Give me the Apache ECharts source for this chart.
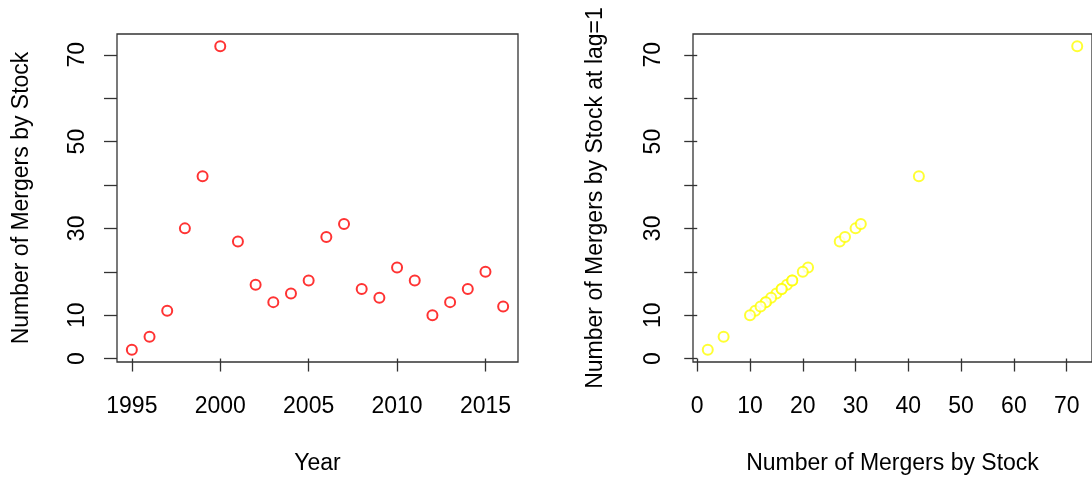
<!DOCTYPE html>
<html>
<head>
<meta charset="utf-8">
<script src="https://cdn.jsdelivr.net/npm/echarts@6/dist/echarts.min.js"></script>
<style>html,body{margin:0;padding:0;background:#fff}#c{width:1092px;height:480px}</style>
</head>
<body>
<div id="c"></div>
<script>
const years = [1995,1996,1997,1998,1999,2000,2001,2002,2003,2004,2005,2006,2007,2008,2009,2010,2011,2012,2013,2014,2015,2016];
const mergers = [2,5,11,30,42,72,27,17,13,15,18,28,31,16,14,21,18,10,13,16,20,12];
const yearTicks = [1995,2000,2005,2010,2015];
const countTicks = [0,10,20,30,40,50,60,70];
const countLabels = [0,10,30,50,70];
const xCountTicks = [0,10,20,30,40,50,60,70];

const FONT = '"Liberation Sans", Arial, sans-serif';
const FS = 23;
const chart = echarts.init(document.getElementById('c'), null, {renderer:'canvas'});

function xAx(gi, min, max, ticks, name) {
  return {
    type:'value', gridIndex:gi, min:min, max:max,
    name:name, nameLocation:'middle', nameGap:90,
    nameTextStyle:{fontFamily:FONT, fontSize:FS, color:'#000'},
    axisLine:{show:false},
    splitLine:{show:false},
    axisTick:{show:true, inside:false, length:13, customValues:ticks, lineStyle:{color:'#333', width:1.3}},
    axisLabel:{show:true, margin:33, customValues:ticks, formatter:v=>String(v), fontFamily:FONT, fontSize:FS, color:'#000'}
  };
}
function yAx(gi, name, gap) {
  return {
    type:'value', gridIndex:gi, min:-0.8, max:74.8,
    name:name, nameLocation:'middle', nameGap:gap, nameRotate:90,
    nameTextStyle:{fontFamily:FONT, fontSize:FS, color:'#000'},
    axisLine:{show:false},
    splitLine:{show:false},
    axisTick:{show:true, inside:false, length:13, customValues:countTicks, lineStyle:{color:'#333', width:1.3}},
    axisLabel:{show:true, rotate:90, margin:28, customValues:countLabels, formatter:v=>String(v), fontFamily:FONT, fontSize:FS, color:'#000'}
  };
}

chart.setOption({
  animation:false,
  backgroundColor:'#fff',
  grid:[
    {left:117, top:34, width:401, height:329, show:true, borderColor:'#333', borderWidth:1.3, backgroundColor:'transparent'},
    {left:693, top:34, width:402, height:329, show:true, borderColor:'#333', borderWidth:1.3, backgroundColor:'transparent'}
  ],
  xAxis:[
    xAx(0, 1994.16, 2016.84, yearTicks, 'Year'),
    xAx(1, -0.8, 74.8, xCountTicks, 'Number of Mergers by Stock')
  ],
  yAxis:[
    yAx(0, 'Number of Mergers by Stock', 84),
    yAx(1, 'Number of Mergers by Stock at lag=1', 86)
  ],
  series:[
    {type:'scatter', xAxisIndex:0, yAxisIndex:0, symbol:'emptyCircle', symbolSize:10,
     itemStyle:{color:'#ff0000', borderWidth:1.4},
     data: years.map((y,i)=>[y, mergers[i]])},
    {type:'scatter', xAxisIndex:1, yAxisIndex:1, symbol:'emptyCircle', symbolSize:10,
     itemStyle:{color:'#ffff00', borderWidth:1.4},
     data: mergers.map(v=>[v, v])}
  ]
});
</script>
</body>
</html>
